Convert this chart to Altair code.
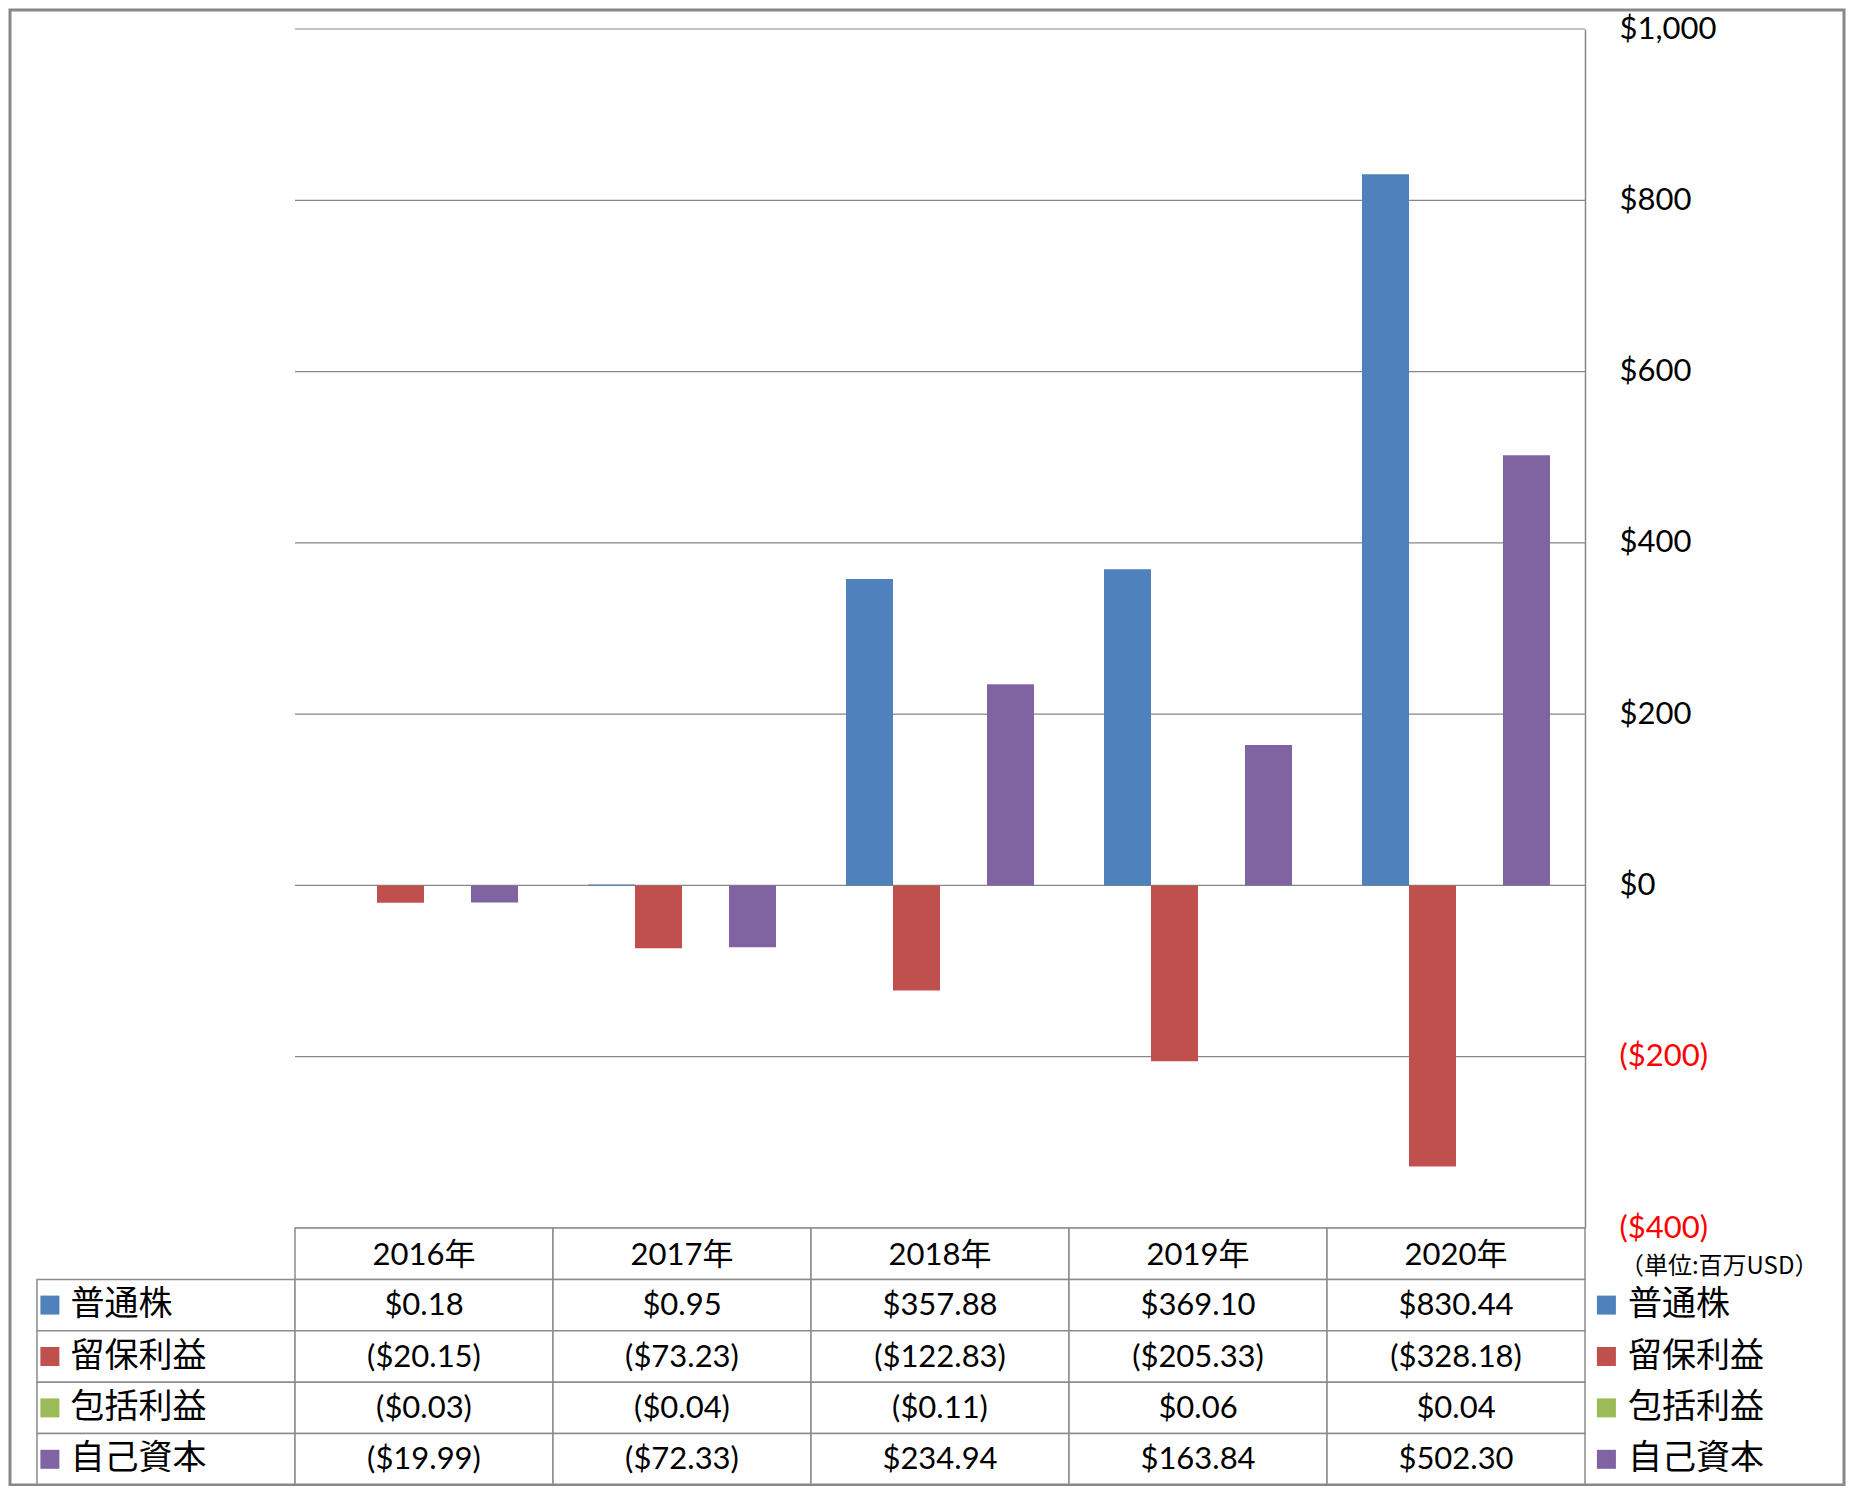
import altair as alt
import pandas as pd

# ---------------- data ----------------
years = ["2016年", "2017年", "2018年", "2019年", "2020年"]
series = ["普通株", "留保利益", "包括利益", "自己資本"]
colors = ["#4F81BD", "#C0504D", "#9BBB59", "#8064A2"]
common_stock = [0.18, 0.95, 357.88, 369.10, 830.44]
retained_earnings = [-20.15, -73.23, -122.83, -205.33, -328.18]
comprehensive_income = [-0.03, -0.04, -0.11, 0.06, 0.04]
equity = [-19.99, -72.33, 234.94, 163.84, 502.30]
y_ticks = [-400, -200, 0, 200, 400, 600, 800, 1000]
unit_label = "（単位:百万USD）"

values_by_series = [common_stock, retained_earnings, comprehensive_income, equity]

LEFT, RIGHT, HEAD = "L", "R", "H"


def fmt(v):
    return f"${v:,.2f}" if v >= 0 else f"(${-v:,.2f})"


rows = []
for s, vals in zip(series, values_by_series):
    for y, v in zip(years, vals):
        rows.append({"series": s, "year": y, "value": v, "label": fmt(v)})
df = pd.DataFrame(rows)

df_ticks = pd.DataFrame({"tick": y_ticks})
cells = [{"row": HEAD, "col": y} for y in years] + [
    {"row": s, "col": c} for s in series for c in [LEFT] + years
]
df_cells = pd.DataFrame(cells)
df_head = pd.DataFrame({"row": [HEAD] * len(years), "col": years, "t": years})
df_left = pd.DataFrame({"row": series, "col": [LEFT] * 4, "series": series})
df_right = pd.DataFrame({"row": series, "col": [RIGHT] * 4, "series": series})
df_unit = pd.DataFrame({"row": [HEAD], "col": [RIGHT], "t": [unit_label]})

# ---------------- layout ----------------
W, H = 1290, 1199
STEP = 258
PAD_T, PAD_B, PAD_L, PAD_R = 21, 258, 287, 261
TABLE_BOTTOM = H + PAD_B - 1
GRID = "#868686"
LINE = "#8c8c8c"
LATIN = "Lato, 'Noto Sans CJK JP'"
CJK = "'Noto Sans CJK JP'"

xs = alt.Scale(domain=[LEFT] + years + [RIGHT], range=[-STEP, W + STEP],
               paddingInner=0, paddingOuter=0)
ys_val = alt.Scale(domain=[-400, 1000], nice=False, zero=False)
ys_table = alt.Scale(domain=[HEAD] + series, range=[H, TABLE_BOTTOM],
                     paddingInner=0, paddingOuter=0)
cs = alt.Scale(domain=series, range=colors)

yaxis = alt.Axis(
    orient="right", values=y_ticks, grid=False,
    domain=True, domainColor=GRID, domainWidth=1.5, ticks=False,
    labelPadding=34, labelFont=LATIN, labelFontSize=31, labelAlign="left",
    labelBaseline="middle", labelOverlap=False, labelFlush=False,
    labelColor=alt.condition("datum.value < 0", alt.value("#FF0000"), alt.value("#000000")),
    labelExpr="datum.value < 0 ? '($' + format(-datum.value, ',') + ')' : '$' + format(datum.value, ',')",
    title=None,
)

gridlines = alt.Chart(df_ticks).mark_rule(color=GRID, strokeWidth=1.2).encode(
    y=alt.Y("tick:Q", scale=ys_val, axis=None),
)

bars = alt.Chart(df).mark_bar().encode(
    x=alt.X("year:N", scale=xs, axis=None),
    xOffset=alt.XOffset("series:N", scale=alt.Scale(domain=series, paddingInner=0, paddingOuter=0.745)),
    y=alt.Y("value:Q", scale=ys_val, axis=yaxis),
    color=alt.Color("series:N", scale=cs, legend=None),
)

cell_rects = alt.Chart(df_cells).mark_rect(fill="white", stroke=LINE, strokeWidth=1.5).encode(
    x=alt.X("col:N", scale=xs, axis=None),
    y=alt.Y("row:N", scale=ys_table, axis=None),
)

head_text = alt.Chart(df_head).mark_text(font=LATIN, fontSize=31, color="black",
                                          baseline="middle", dy=2).encode(
    x=alt.X("col:N", scale=xs, axis=None),
    y=alt.Y("row:N", scale=ys_table, axis=None),
    text="t:N",
)

value_text = alt.Chart(df).mark_text(font=LATIN, fontSize=31, color="black",
                                      baseline="middle", dy=1).encode(
    x=alt.X("year:N", scale=xs, axis=None),
    y=alt.Y("series:N", scale=ys_table, axis=None),
    text="label:N",
)


def legend_column(data, sq_pos, txt_pos):
    sq = alt.Chart(data).mark_square(size=361, opacity=1).encode(
        x=alt.X("col:N", scale=xs, axis=None, bandPosition=sq_pos),
        y=alt.Y("row:N", scale=ys_table, axis=None),
        color=alt.Color("series:N", scale=cs, legend=None),
    )
    tx = alt.Chart(data).mark_text(font=CJK, fontSize=34, color="black",
                                   align="left", baseline="middle").encode(
        x=alt.X("col:N", scale=xs, axis=None, bandPosition=txt_pos),
        y=alt.Y("row:N", scale=ys_table, axis=None),
        text="series:N",
    )
    return sq, tx


lsq, ltx = legend_column(df_left, 0.05, 0.13)
rsq, rtx = legend_column(df_right, 0.083, 0.167)

unit_text = alt.Chart(df_unit).mark_text(font=CJK, fontSize=24, color="black",
                                          baseline="middle", dy=13).encode(
    x=alt.X("col:N", scale=xs, axis=None, bandPosition=0.52),
    y=alt.Y("row:N", scale=ys_table, axis=None),
    text="t:N",
)

frame = alt.Chart(alt.Data(values=[{"f": 1}])).mark_rect(
    fill="white", fillOpacity=0, stroke="#888888", strokeWidth=3).encode(
    x=alt.value(-PAD_L + 2), x2=alt.value(W + PAD_R - 2),
    y=alt.value(-PAD_T + 2), y2=alt.value(TABLE_BOTTOM),
)

chart = alt.layer(
    gridlines, bars, cell_rects, head_text, value_text, lsq, ltx, rsq, rtx, unit_text, frame
).resolve_scale(y="independent").properties(
    width=W, height=H,
    autosize=alt.AutoSizeParams(type="none"),
    padding={"left": PAD_L, "top": PAD_T, "right": PAD_R, "bottom": PAD_B},
).configure_view(strokeWidth=0)

chart.save("out.html", embed_options={"renderer": "svg", "actions": False})
